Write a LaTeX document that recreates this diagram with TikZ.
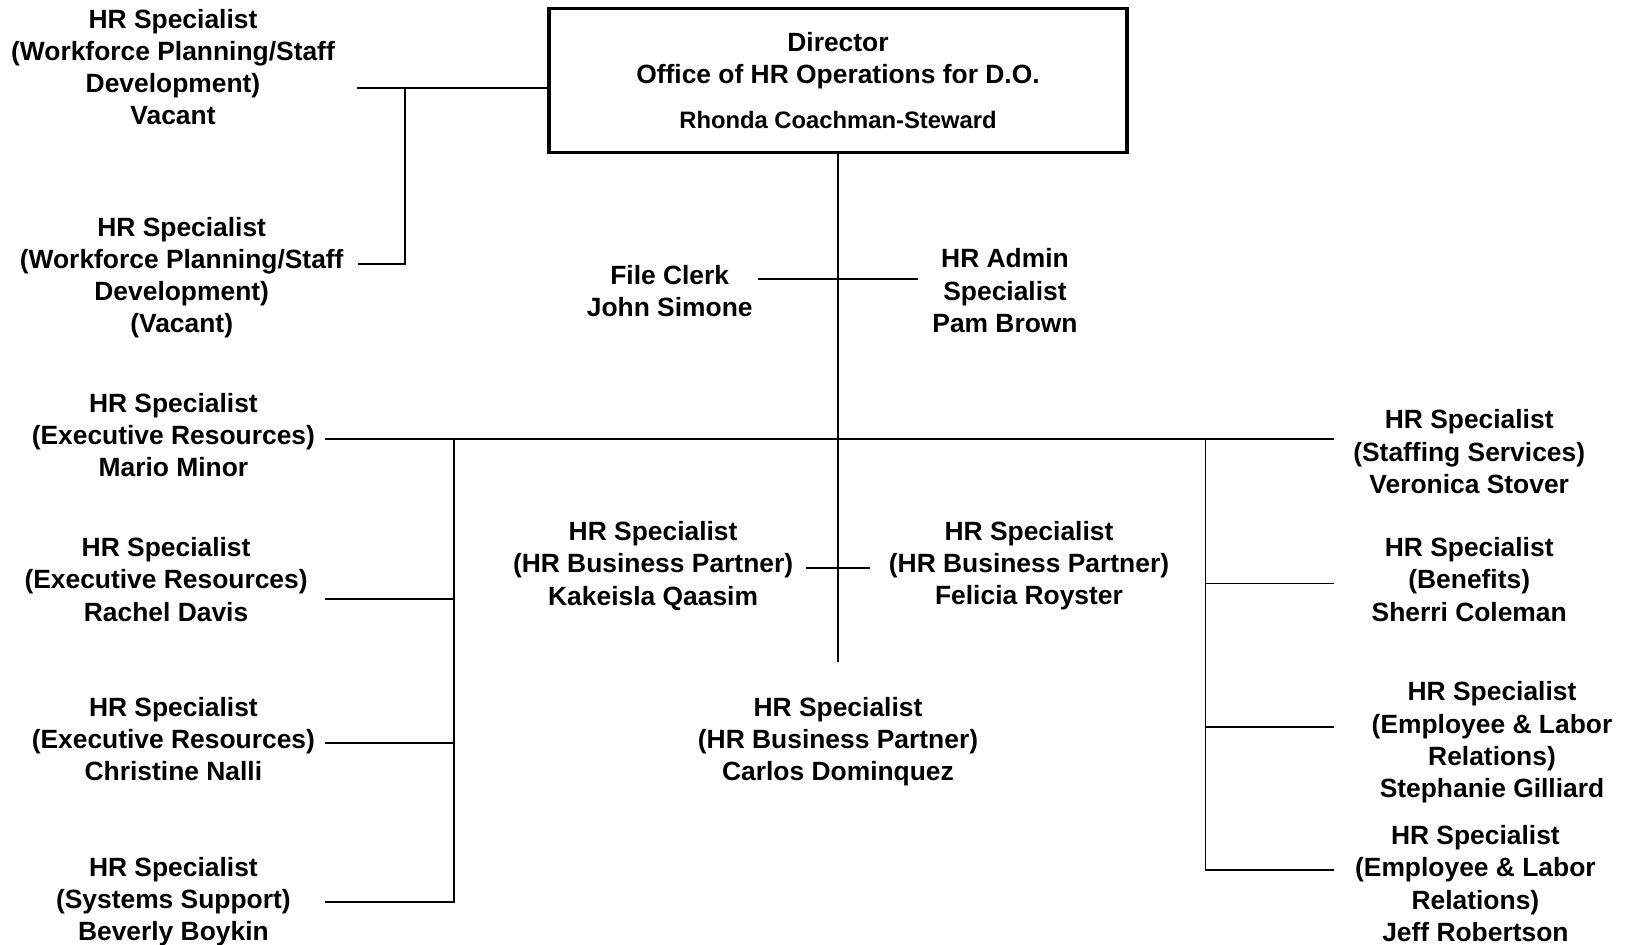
\documentclass[tikz,border=0pt]{standalone}
\usepackage{fontspec}
\setmainfont{Liberation Sans}
\begin{document}
\begin{tikzpicture}[x=0.5pt,y=-0.5pt,
  lbl/.style={font=\fontsize{13.2}{16.1}\selectfont\bfseries, align=center, inner sep=0pt},
  conn/.style={line width=0.9pt},
  boss/.style={draw, line width=1.75pt, minimum width=289pt, minimum height=72pt, inner sep=0pt,
    font=\fontsize{13.2}{16.1}\selectfont\bfseries, align=center}]
\useasboundingbox (0,0) rectangle (1628,945);

% nodes
\node[boss] (dir) at (838,80.5) {Director\\Office of HR Operations for D.O.\\[6.3pt]{\fontsize{11.9}{14.3}\selectfont Rhonda Coachman-Steward}};
\node[lbl] (wp1) at (173,67) {HR Specialist\\(Workforce Planning/Staff\\Development)\\Vacant};
\node[lbl] (wp2) at (181.7,277.7) {HR Specialist\\(Workforce Planning/Staff\\Development)\\(Vacant)};
\node[lbl] (fc) at (669.7,290.7) {File Clerk\\John Simone};
\node[lbl] (adm) at (1005,290.7) {HR Admin\\Specialist\\Pam Brown};
\node[lbl] (er1) at (173.4,435) {HR Specialist\\(Executive Resources)\\Mario Minor};
\node[lbl] (er2) at (166.1,579.4) {HR Specialist\\(Executive Resources)\\Rachel Davis};
\node[lbl] (er3) at (173.4,738.8) {HR Specialist\\(Executive Resources)\\Christine Nalli};
\node[lbl] (ss) at (173.4,901.7) {HR Specialist\\(Systems Support)\\Beverly Boykin};
\node[lbl] (bp1) at (653.1,565.9) {HR Specialist\\(HR Business Partner)\\Kakeisla Qaasim};
\node[lbl] (bp2) at (1029,565.9) {HR Specialist\\(HR Business Partner)\\Felicia Royster};
\node[lbl] (bp3) at (838,741.9) {HR Specialist\\(HR Business Partner)\\Carlos Dominquez};
\node[lbl] (st) at (1469.2,451.6) {HR Specialist\\(Staffing Services)\\Veronica Stover};
\node[lbl] (ben) at (1469.2,579.4) {HR Specialist\\(Benefits)\\Sherri Coleman};
\node[lbl] (el1) at (1492,742.4) {HR Specialist\\(Employee \& Labor\\Relations)\\Stephanie Gilliard};
\node[lbl] (el2) at (1475.4,883.5) {HR Specialist\\(Employee \& Labor\\Relations)\\Jeff Robertson};

% connector coordinates
\coordinate (wp1c) at (357.2,88.3);
\coordinate (wp2c) at (358.2,263.7);
\coordinate (wpj) at (404.9,88.3);
\coordinate (tend) at (838,662.4);
\coordinate (fcc) at (758,279.3);
\coordinate (admc) at (917.9,279.3);
\coordinate (er1c) at (325,439.2);
\coordinate (stc) at (1334.2,439.2);
\coordinate (lj) at (453.7,439.2);
\coordinate (rj) at (1205.5,439.2);
\coordinate (er2c) at (325,599.1);
\coordinate (er3c) at (325,743.4);
\coordinate (ssc) at (325,902.3);
\coordinate (benc) at (1334.2,583.5);
\coordinate (el1c) at (1334.2,726.8);
\coordinate (el2c) at (1334.2,870.1);
\coordinate (bp1c) at (805.7,568);
\coordinate (bp2c) at (870.1,568);

% connectors
\draw[conn] (wp1c) -- (dir.west |- wp1c);
\draw[conn] (wpj) |- (wp2c);
\draw[conn] (dir.south) -- (tend);
\draw[conn] (fcc) -- (admc);
\draw[conn] (er1c) -- (stc);
\draw[conn] (lj) |- (ssc);
\draw[conn] (er2c) -- (lj |- er2c);
\draw[conn] (er3c) -- (lj |- er3c);
\draw[conn] (rj) |- (el2c);
\draw[conn] (benc) -- (rj |- benc);
\draw[conn] (el1c) -- (rj |- el1c);
\draw[conn] (bp1c) -- (bp2c);
\end{tikzpicture}
\end{document}
